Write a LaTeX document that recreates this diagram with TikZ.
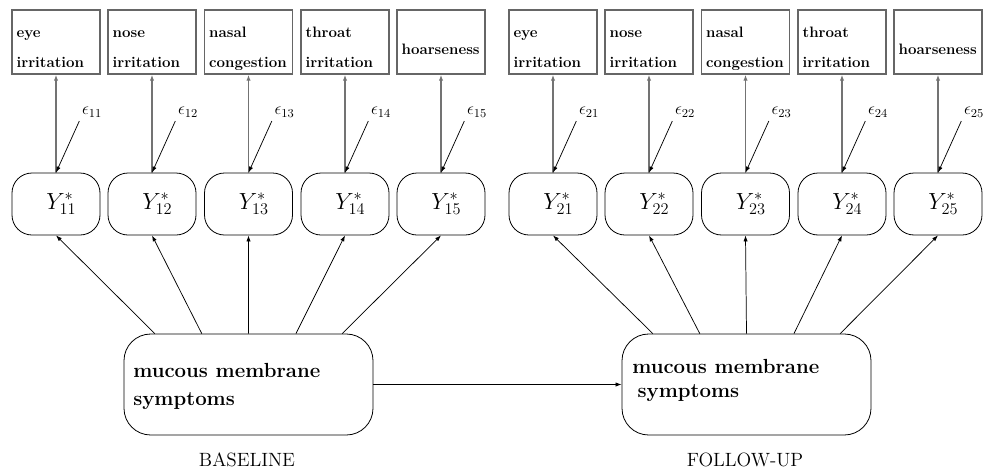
\RequirePackage{fix-cm}
\documentclass[tikz,border=0pt]{standalone}
\usetikzlibrary{arrows.meta,calc}
\begin{document}
\begin{tikzpicture}[x=0.75pt,y=-0.75pt,
  tipped/.style={-{Latex[length=4.5pt,width=3.2pt]}},
  obs/.style={draw=black!60, line width=0.9pt, minimum width=66pt, minimum height=48pt, inner sep=0pt},
  obstext/.style={anchor=base west, inner sep=0pt, font=\fontsize{11.3}{13}\selectfont\bfseries},
  lat/.style={draw, line width=0.6pt, rounded corners=15pt, minimum width=66pt,
    minimum height=46.5pt, font=\fontsize{17.5}{20}\selectfont},
  fac/.style={draw, line width=0.6pt, rounded corners=20pt, minimum width=186.75pt,
    minimum height=75.75pt},
  factext/.style={anchor=west, align=left, inner sep=0pt, font=\fontsize{15.3}{21}\selectfont\bfseries},
  factexttwo/.style={anchor=west, align=left, inner sep=0pt, font=\fontsize{15.3}{18}\selectfont\bfseries},
  err/.style={inner sep=1pt, font=\fontsize{13}{14}\selectfont},
  vline/.style={tipped, draw=black!55, line width=1pt},
  conn/.style={tipped, line width=0.55pt},
  ttl/.style={font=\fontsize{14.4}{16}\selectfont}]
\useasboundingbox (0,0) rectangle (984,471);

% factor boxes
\node[fac] (f1) at (248.5,384.5) {};
\node[fac] (f2) at (746.5,384.5) {};
\node[factext] (t1) at (133,386) {mucous membrane\\symptoms};
\node[factexttwo] (t2) at (632,380) {mucous membrane\\\hspace*{4pt}symptoms};
\node[ttl] (b1) at (247,460) {BASELINE};
\node[ttl] (b2) at (745,460) {FOLLOW-UP};
\draw[conn] (f1.east) -- (f2.west);

\foreach \g/\dx in {1/0,2/497} {
  \foreach \i/\x/\fr/\la/\lb/\yb in {1/56/0.125/eye/irritation/58,
                              2/152/0.313/nose/irritation/58,
                              3/248.5/0.5/nasal/congestion/58,
                              4/345/0.69/throat/irritation/58,
                              5/441/0.875/{}/hoarseness/45} {
    \node[obs] (o\g\i) at (\x+\dx,42) {};
    \node[obstext] (la\g\i) at ($(o\g\i.north west)+(5,28)$) {\la};
    \node[obstext] (lb\g\i) at ($(o\g\i.north west)+(5,\yb)$) {\lb};
    \node[lat] (y\g\i) at (\x+\dx,204) {\hspace*{8pt}$Y^*_{\g\i}$};
    \node[err] (e\g\i) at (\x+\dx+36,112) {$\epsilon_{\g\i}$};
    \draw[vline] (y\g\i.north) -- (o\g\i.south);
    \draw[conn, shorten <=2pt] (e\g\i.south west) -- (y\g\i.north);
    \draw[conn] ($(f\g.north west)!\fr!(f\g.north east)$) -- (y\g\i.south);
  }
}
\end{tikzpicture}
\end{document}
